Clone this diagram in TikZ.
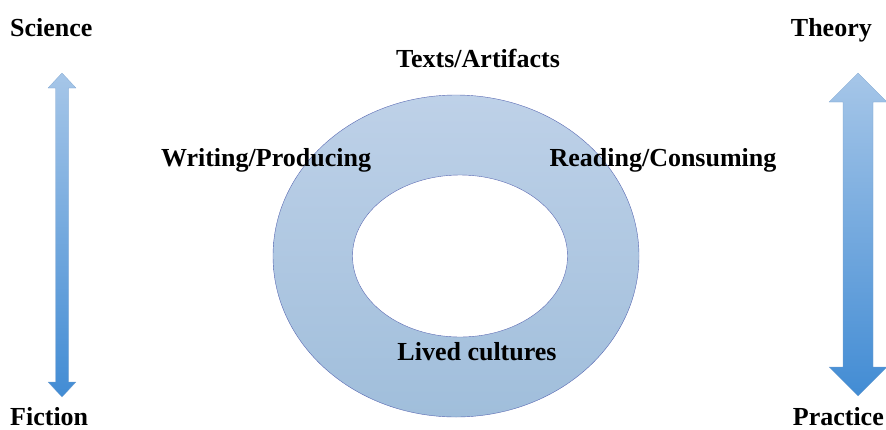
\documentclass[tikz,border=0pt]{standalone}
\usepackage{fontspec}
\setmainfont{Liberation Serif}
\usetikzlibrary{shapes.geometric}
\definecolor{ringtop}{RGB}{190,209,232}
\definecolor{ringbot}{RGB}{160,190,219}
\definecolor{ringline}{RGB}{88,104,178}
\definecolor{arrtop}{RGB}{166,198,232}
\definecolor{arrbot}{RGB}{66,140,212}
\definecolor{arrline}{RGB}{120,160,205}
\tikzset{
  lbl/.style={font=\fontsize{26}{30}\selectfont\bfseries,inner sep=0pt,anchor=base},
  ring/.style={ellipse,draw=ringline,thin,inner sep=0pt},
  % two-headed block arrow, drawn downward from its top tip
  pics/duo arrow/.style args={#1/#2/#3/#4}{code={
    \path[draw=arrline,very thin,top color=arrtop,bottom color=arrbot]
      (0,0) -- (#3,#4) -- (#2,#4) -- (#2,#1-#4) -- (#3,#1-#4) -- (0,#1)
      -- (-#3,#1-#4) -- (-#2,#1-#4) -- (-#2,#4) -- (-#3,#4) -- cycle;
  }},
}
\begin{document}
\begin{tikzpicture}[x=1pt,y=-1pt]
  \useasboundingbox (0,0) rectangle (886,429);
  % the ring
  \node[ring,top color=ringtop,bottom color=ringbot,minimum width=366,minimum height=322] (outer) at (456,256) {};
  \node[ring,fill=white,minimum width=215,minimum height=162] (inner) at (460,256) {};
  % labels round the ring (placed by baseline)
  \node[lbl] (texts) at (478,67) {Texts/Artifacts};
  \node[lbl] (writing) at (266,166) {Writing/Producing};
  \node[lbl] (reading) at (663,166) {Reading/Consuming};
  \node[lbl] (lived) at (477,360) {Lived cultures};
  % the two axes
  \node[lbl,anchor=base west] (science) at (10,36) {Science};
  \node[lbl,anchor=base west] (fiction) at (10,425) {Fiction};
  \pic at (62,73) {duo arrow=324/6.5/14/15};
  \node[lbl,anchor=base east] (theory) at (872,36) {Theory};
  \node[lbl,anchor=base east] (practice) at (884,425) {Practice};
  \pic at (858,73) {duo arrow=323/15/29/29};
\end{tikzpicture}
\end{document}
